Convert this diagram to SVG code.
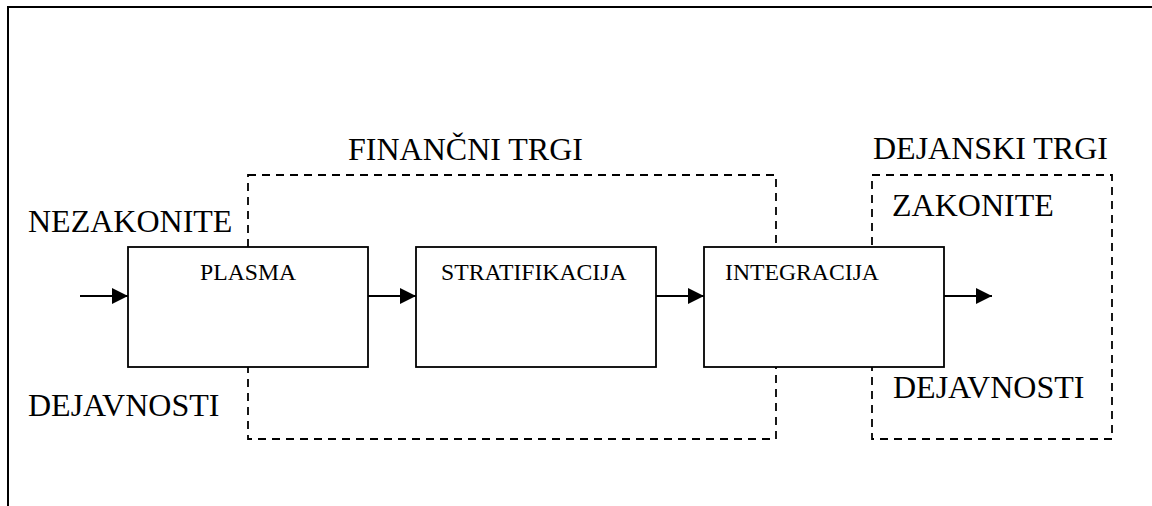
<svg xmlns="http://www.w3.org/2000/svg" width="1152" height="506" viewBox="0 0 1152 506">
<defs>
<style>
.frame{fill:none;stroke:#000;stroke-width:2}
.dash{fill:none;stroke:#000;stroke-width:1.8;stroke-dasharray:8 6}
.box{fill:#fff;stroke:#000;stroke-width:1.8}
.conn{stroke:#000;stroke-width:1.8;fill:none;marker-end:url(#ah)}
.big{font-family:"Liberation Serif","Times New Roman",serif;font-size:32px;fill:#000}
.lbl{font-family:"Liberation Serif","Times New Roman",serif;font-size:23.7px;fill:#000}
</style>
<marker id="ah" markerUnits="userSpaceOnUse" markerWidth="17" markerHeight="16" refX="16" refY="8" orient="auto">
<path d="M0,0 L16,8 L0,16 Z" fill="#000"/>
</marker>
</defs>
<path class="frame" d="M8,506 L8,7 L1160,7"/>
<g id="financni-trgi">
<rect class="dash" x="248" y="175" width="528" height="264"/>
<text class="big" x="348" y="160">FINANČNI TRGI</text>
</g>
<g id="dejanski-trgi">
<rect class="dash" x="872" y="175" width="240" height="264"/>
<text class="big" x="873" y="159">DEJANSKI TRGI</text>
<text class="big" x="892" y="216">ZAKONITE</text>
<text class="big" x="893" y="398">DEJAVNOSTI</text>
</g>
<g id="nezakonite">
<text class="big" x="28" y="232">NEZAKONITE</text>
<text class="big" x="28" y="416">DEJAVNOSTI</text>
</g>
<g id="connectors">
<line class="conn" x1="80" y1="296" x2="128" y2="296"/>
<line class="conn" x1="368" y1="296" x2="416" y2="296"/>
<line class="conn" x1="656" y1="296" x2="704" y2="296"/>
<line class="conn" x1="944" y1="296" x2="992" y2="296"/>
</g>
<g id="plasma">
<rect class="box" x="128" y="247" width="240" height="120"/>
<text class="lbl" x="200" y="280">PLASMA</text>
</g>
<g id="stratifikacija">
<rect class="box" x="416" y="247" width="240" height="120"/>
<text class="lbl" x="441" y="280">STRATIFIKACIJA</text>
</g>
<g id="integracija">
<rect class="box" x="704" y="247" width="240" height="120"/>
<text class="lbl" x="725" y="280">INTEGRACIJA</text>
</g>
</svg>
